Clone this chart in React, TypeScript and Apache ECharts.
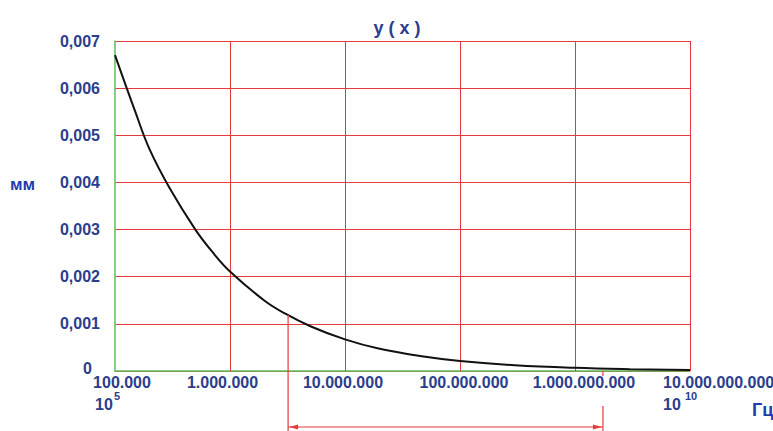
import React, { useEffect, useRef } from "react";
import * as echarts from "echarts";

// Frequency (Hz) and depth (mm)
const frequencies = [1e5, 1.5e5, 2e5, 3e5, 5e5, 7e5, 1e6, 2e6, 3e6, 5e6, 1e7, 2e7, 5e7, 1e8, 3e8, 1e9, 3e9, 1e10];
const depths = [0.0067, 0.0055, 0.0047, 0.00387, 0.003, 0.00253, 0.00211, 0.00149, 0.00122, 0.00095, 0.00067, 0.00047, 0.0003, 0.00021, 0.000122, 0.000067, 0.000039, 0.000021];

const xTickValues = [1e5, 1e6, 1e7, 1e8, 1e9, 1e10];
const xTickLabels = ["100.000", "1.000.000", "10.000.000", "100.000.000", "1.000.000.000", "10.000.000.000"];
const powerNotes = [{ value: 1e5, exp: "5" }, { value: 1e10, exp: "10" }];
const yMax = 0.007;
const yStep = 0.001;

// Bracketed frequency band
const bandStart = 3.2e6;
const bandStartDepth = 0.00119;
const bandEnd = 1.75e9;

const titleText = "y ( x )";
const yUnit = "мм";
const xUnit = "Гц";

const NAVY = "#2b3d8c";
const BLUE = "#1f3cb0";
const RED = "#e53a3d";
const GREEN = "#5cbf5c";
const FONT = "Liberation Sans, Arial, sans-serif";

export default function App() {
  const ref = useRef<HTMLDivElement>(null);
  useEffect(() => {
    if (!ref.current) return;
    const chart = echarts.init(ref.current, undefined, { renderer: "svg" });
    const base = { fontSize: 16, fontWeight: "bold" as const, color: NAVY, fontFamily: FONT, lineHeight: 14 };
    chart.setOption({
      animation: false,
      backgroundColor: "#ffffff",
      grid: { left: 115, right: 83, top: 41, bottom: 60 },
      xAxis: {
        type: "log",
        logBase: 10,
        min: 1e5,
        max: 1e10,
        axisLine: { show: true, lineStyle: { color: GREEN, width: 1.5 } },
        axisTick: { show: false },
        minorTick: { show: false },
        minorSplitLine: { show: false },
        splitLine: { show: false },
        axisLabel: {
          show: true,
          margin: 4,
          hideOverlap: false,
          showMinLabel: true,
          showMaxLabel: false,
          formatter: (v: number) => {
            const e = Math.round(Math.log10(v));
            return `{o${e}|${xTickLabels[e - 5]}}`;
          },
          rich: {
            o5: { ...base, padding: [0, 0, 0, 14] },
            o6: { ...base, padding: [0, 15, 0, 0] },
            o7: { ...base, padding: [0, 4, 0, 0] },
            o8: { ...base, padding: [0, 0, 0, 8] },
            o9: { ...base, padding: [0, 0, 0, 18] },
          },
        },
      },
      yAxis: {
        type: "value",
        min: 0,
        max: yMax,
        interval: yStep,
        axisLine: { show: true, lineStyle: { color: GREEN, width: 1.5 } },
        axisTick: { show: false },
        splitLine: { show: true, lineStyle: { color: RED, width: 1 } },
        axisLabel: {
          margin: 15,
          fontSize: 16,
          fontWeight: "bold",
          color: NAVY,
          fontFamily: FONT,
          formatter: (v: number) => (v === 0 ? "{z|0}" : v.toFixed(3).replace(".", ",")),
          rich: {
            z: { fontSize: 16, fontWeight: "bold", color: NAVY, fontFamily: FONT, padding: [0, 8, 5, 0] },
          },
        },
      },
      series: [
        {
          type: "line",
          data: frequencies.map((f, i) => [f, depths[i]]),
          smooth: 0.4,
          showSymbol: false,
          lineStyle: { color: "#111111", width: 2 },
          z: 5,
          markLine: {
            silent: true,
            symbol: "none",
            label: { show: false },
            lineStyle: { color: RED, width: 1, type: "solid" },
            data: xTickValues.slice(1).map((v) => ({ xAxis: v })),
            z: 1,
          },
        },
      ],
    });

    const p = (x: number, y: number) => chart.convertToPixel({ gridIndex: 0 }, [x, y]) as number[];
    const [lx, ly] = p(bandStart, bandStartDepth);
    const [, axisY] = p(bandStart, 0);
    const [rx] = p(bandEnd, 0);
    const by = axisY + 56;
    const red = { stroke: RED, lineWidth: 1.2 };
    const [maxX] = p(xTickValues[xTickValues.length - 1], 0);

    const notes: any[] = [];
    powerNotes.forEach((n, i) => {
      const [nx] = p(n.value, 0);
      const left = i === 0 ? nx - 20 : nx - 27;
      notes.push({ type: "text", x: left, y: axisY + 25, style: { text: "10", fill: NAVY, font: `bold 16px ${FONT}`, lineHeight: 16, textAlign: "left", textVerticalAlign: "top" } });
      notes.push({ type: "text", x: left + (i === 0 ? 19 : 22), y: axisY + 20, style: { text: n.exp, fill: NAVY, font: `bold 11px ${FONT}`, lineHeight: 10, textAlign: "left", textVerticalAlign: "top" } });
    });

    chart.setOption({
      graphic: [
        { type: "text", x: 397, y: 28, style: { text: titleText, fill: NAVY, font: `bold 18px ${FONT}`, textAlign: "center", textVerticalAlign: "middle" } },
        { type: "text", x: 10, y: 184, style: { text: yUnit, fill: BLUE, font: `bold 17px ${FONT}`, textAlign: "left", textVerticalAlign: "middle" } },
        { type: "text", x: 752, y: 410, style: { text: xUnit, fill: BLUE, font: `bold 18px ${FONT}`, textAlign: "left", textVerticalAlign: "middle" } },
        { type: "text", x: maxX - 27, y: axisY + 4, style: { text: xTickLabels[xTickLabels.length - 1], fill: NAVY, font: `bold 16px ${FONT}`, lineHeight: 14, textAlign: "left", textVerticalAlign: "top" } },
        ...notes,
        { type: "line", shape: { x1: lx, y1: ly, x2: lx, y2: by + 4 }, style: red, z: 10 },
        { type: "line", shape: { x1: rx, y1: axisY, x2: rx, y2: axisY + 5 }, style: red, z: 10 },
        { type: "line", shape: { x1: rx, y1: axisY + 35, x2: rx, y2: by + 4 }, style: red, z: 10 },
        { type: "line", shape: { x1: lx, y1: by, x2: rx, y2: by }, style: red, z: 10 },
        { type: "polygon", shape: { points: [[lx + 1, by], [lx + 10, by - 2.5], [lx + 10, by + 2.5]] }, style: { fill: RED }, z: 10 },
        { type: "polygon", shape: { points: [[rx - 1, by], [rx - 10, by - 2.5], [rx - 10, by + 2.5]] }, style: { fill: RED }, z: 10 },
      ],
    });

    return () => chart.dispose();
  }, []);
  return <div ref={ref} style={{ position: "fixed", left: 0, top: 0, width: 773, height: 431 }} />;
}
